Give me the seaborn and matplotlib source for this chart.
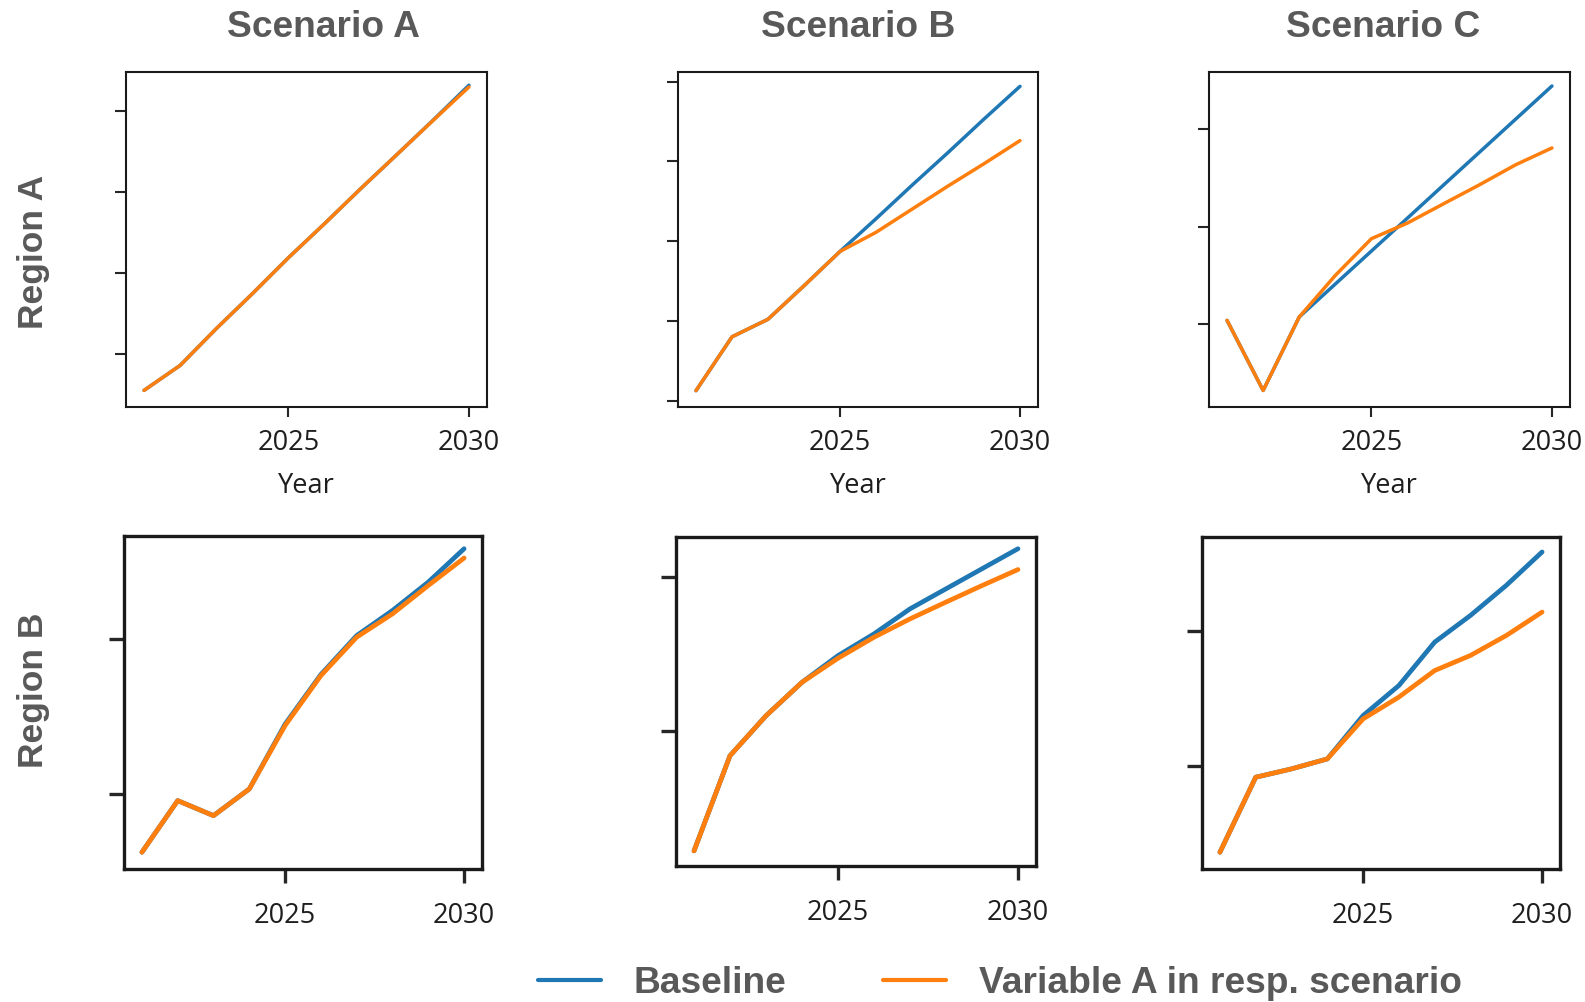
import numpy as np
import pandas as pd
import seaborn as sns
import matplotlib.pyplot as plt

# years on the x axis
years = [2021, 2022, 2023, 2024, 2025, 2026, 2027, 2028, 2029, 2030]

# Region A (values in units of the y tick spacing, no tick labels in the chart)
base_a_a = [0.556, 0.864, 1.317, 1.748, 2.192, 2.612, 3.043, 3.462, 3.885, 4.319]
var_a_a = [0.556, 0.864, 1.317, 1.748, 2.192, 2.612, 3.043, 3.462, 3.882, 4.297]
base_a_b = [1.125, 1.80, 2.02, 2.44, 2.87, 3.28, 3.70, 4.11, 4.53, 4.94]
var_a_b = [1.125, 1.80, 2.02, 2.44, 2.87, 3.11, 3.40, 3.69, 3.97, 4.26]
base_a_c = [1.041, 0.325, 1.076, 1.413, 1.750, 2.087, 2.425, 2.762, 3.099, 3.436]
var_a_c = [1.041, 0.325, 1.076, 1.501, 1.876, 2.036, 2.233, 2.428, 2.632, 2.803]

# Region B
base_b_a = [0.624, 0.957, 0.860, 1.032, 1.450, 1.770, 2.021, 2.183, 2.366, 2.581]
var_b_a = [0.624, 0.957, 0.860, 1.032, 1.441, 1.763, 2.011, 2.161, 2.344, 2.521]
base_b_b = [0.225, 0.842, 1.101, 1.318, 1.491, 1.632, 1.794, 1.924, 2.054, 2.184]
var_b_b = [0.225, 0.842, 1.101, 1.318, 1.474, 1.610, 1.729, 1.838, 1.945, 2.049]
base_b_c = [0.361, 0.918, 0.980, 1.054, 1.376, 1.599, 1.921, 2.119, 2.342, 2.590]
var_b_c = [0.361, 0.918, 0.980, 1.054, 1.351, 1.513, 1.710, 1.822, 1.970, 2.144]

scenarios = ["Scenario A", "Scenario B", "Scenario C"]
regions = ["Region A", "Region B"]
series_names = ["Baseline", "Variable A in resp. scenario"]

panel_data = {
    ("Region A", "Scenario A"): (base_a_a, var_a_a),
    ("Region A", "Scenario B"): (base_a_b, var_a_b),
    ("Region A", "Scenario C"): (base_a_c, var_a_c),
    ("Region B", "Scenario A"): (base_b_a, var_b_a),
    ("Region B", "Scenario B"): (base_b_b, var_b_b),
    ("Region B", "Scenario C"): (base_b_c, var_b_c),
}

# y tick positions and limits per panel
yticks = {
    ("Region A", "Scenario A"): [1, 2, 3, 4],
    ("Region A", "Scenario B"): [1, 2, 3, 4, 5],
    ("Region A", "Scenario C"): [1, 2, 3],
    ("Region B", "Scenario A"): [1, 2],
    ("Region B", "Scenario B"): [1, 2],
    ("Region B", "Scenario C"): [1, 2],
}
ylims = {
    ("Region A", "Scenario A"): (0.351, 4.482),
    ("Region A", "Scenario B"): (0.92, 5.12),
    ("Region A", "Scenario C"): (0.156, 3.579),
    ("Region B", "Scenario A"): (0.516, 2.663),
    ("Region B", "Scenario B"): (0.127, 2.260),
    ("Region B", "Scenario C"): (0.237, 2.701),
}

rows = []
for (reg, scen), (b, v) in panel_data.items():
    for y, bb, vv in zip(years, b, v):
        rows.append((reg, scen, y, series_names[0], bb))
        rows.append((reg, scen, y, series_names[1], vv))
df = pd.DataFrame(rows, columns=["region", "scenario", "Year", "series", "value"])

sns.set_style("ticks")
plt.rcParams["font.family"] = ["Liberation Sans", "DejaVu Sans"]

W, H = 1585, 1003
fig = plt.figure(figsize=(W / 100, H / 100), dpi=100)

# axes boxes in pixels: left, right, top, bottom
boxes = {
    ("Region A", "Scenario A"): (126, 487, 73, 408),
    ("Region A", "Scenario B"): (678, 1038, 73, 408),
    ("Region A", "Scenario C"): (1209, 1570, 73, 408),
    ("Region B", "Scenario A"): (124, 482, 537, 870),
    ("Region B", "Scenario B"): (676, 1036, 538, 867),
    ("Region B", "Scenario C"): (1202, 1560, 538, 870),
}

palette = {"Baseline": "#1f77b4", "Variable A in resp. scenario": "#ff7f0e"}
tick_font = "Open Sans"
grey = "#595959"

for (reg, scen), (l, r, t, b) in boxes.items():
    ax = fig.add_axes([l / W, 1 - b / H, (r - l) / W, (b - t) / H])
    sub = df[(df.region == reg) & (df.scenario == scen)]
    top = reg == "Region A"
    lw = 2.5 if top else 3.4
    sns.lineplot(data=sub, x="Year", y="value", hue="series", palette=palette,
                 linewidth=lw, ax=ax, legend=False)
    ax.set_xlim(2020.5, 2030.5)
    ax.set_ylim(*ylims[(reg, scen)])
    ax.set_xticks([2025, 2030])
    ax.set_xticklabels(["2025", "2030"], fontfamily=tick_font, fontsize=19.5, color="#1e1e1e")
    ax.set_yticks(yticks[(reg, scen)])
    ax.set_yticklabels([])
    ax.set_ylabel("")
    sw = 1.5 if top else 2.4
    for s in ax.spines.values():
        s.set_linewidth(sw)
        s.set_color("#1a1a1a")
    if top:
        ax.tick_params(axis="x", length=7, width=sw, pad=8)
        ax.tick_params(axis="y", length=8, width=sw)
        ax.set_xlabel("Year", fontfamily=tick_font, fontsize=19.5, color="#1e1e1e", labelpad=11)
    else:
        ax.tick_params(axis="x", length=10, width=sw, pad=13)
        ax.tick_params(axis="y", length=11, width=sw)
        ax.set_xlabel("")

# column titles and row labels
title_x = [323, 858, 1383]
for name, x in zip(scenarios, title_x):
    fig.text(x / W, 1 - 37 / H, name, ha="center", va="baseline",
             fontsize=26.7, fontweight="bold", color=grey)
row_y = [252, 690]
for name, y in zip(regions, row_y):
    fig.text(33 / W, 1 - y / H, name, ha="center", va="center", rotation=90,
             fontsize=25.5, fontweight="bold", color=grey)

# legend
handles = [plt.Line2D([], [], color=palette[n], linewidth=3) for n in series_names]
leg = fig.legend(handles, series_names, loc="center", bbox_to_anchor=(1000 / W, 1 - 984 / H),
                 ncol=2, frameon=False, handlelength=1.7, handletextpad=0.9,
                 columnspacing=2.6, borderpad=0,
                 prop={"weight": "bold", "size": 26.7})
for txt in leg.get_texts():
    txt.set_color(grey)

fig.savefig("out.png", dpi=100)
